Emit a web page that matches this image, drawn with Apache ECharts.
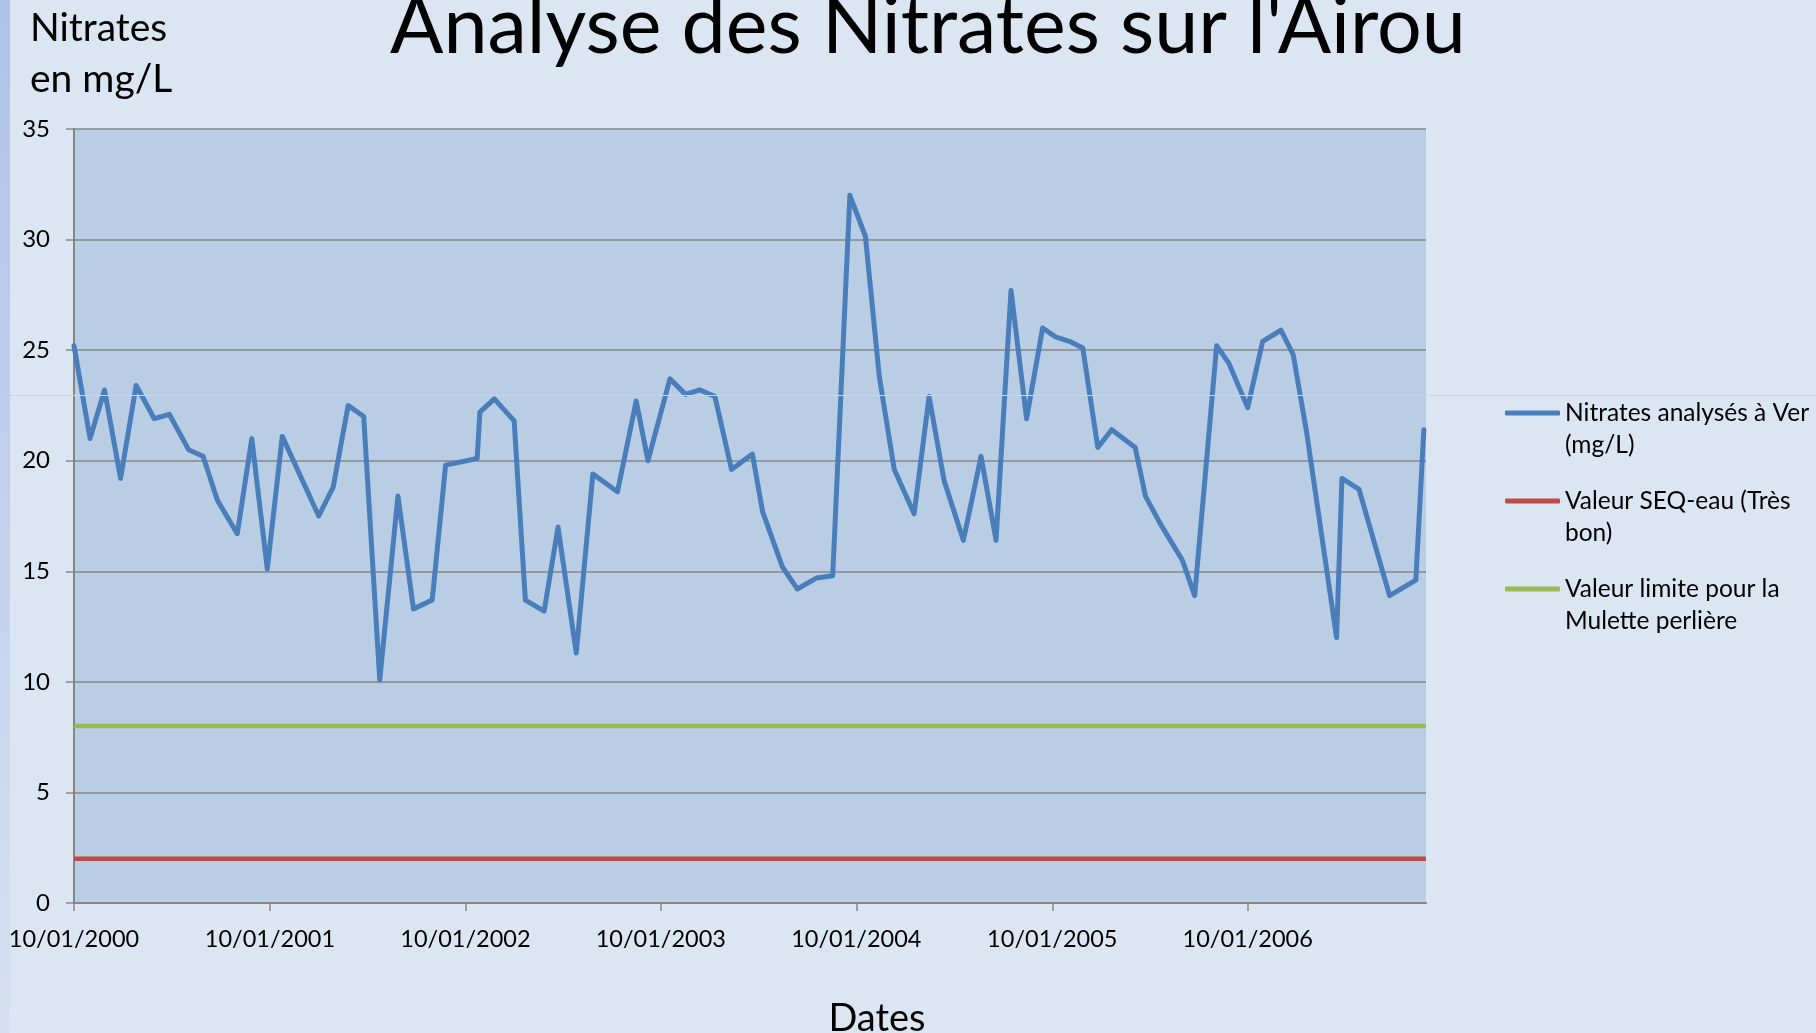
<!DOCTYPE html>
<html>
<head>
<meta charset="utf-8">
<script src="https://cdn.jsdelivr.net/npm/echarts@6/dist/echarts.min.js"></script>
<style>
  html, body { margin: 0; padding: 0; background: #DCE6F2; }
  #chart { width: 1816px; height: 1033px; }
</style>
</head>
<body>
<div id="chart"></div>
<script>
// ---- Data ----
const sampleDates = [
  '2000-01-10','2000-02-09','2000-03-07','2000-04-06','2000-05-05','2000-06-08','2000-07-06','2000-08-11',
  '2000-09-07','2000-10-04','2000-11-10','2000-12-07','2001-01-05','2001-02-02','2001-04-11','2001-05-08',
  '2001-06-05','2001-07-04','2001-08-03','2001-09-06','2001-10-05','2001-11-09','2001-12-04','2002-02-01',
  '2002-02-06','2002-03-05','2002-04-11','2002-05-02','2002-06-06','2002-07-02','2002-08-05','2002-09-05',
  '2002-10-21','2002-11-25','2002-12-17','2003-01-27','2003-02-25','2003-03-24','2003-04-21','2003-05-22',
  '2003-06-30','2003-07-19','2003-08-25','2003-09-22','2003-10-28','2003-11-27','2003-12-29','2004-01-27',
  '2004-02-22','2004-03-21','2004-04-27','2004-05-25','2004-06-22','2004-07-28','2004-08-30','2004-09-27',
  '2004-10-25','2004-11-23','2004-12-23','2005-01-16','2005-02-11','2005-03-08','2005-04-05','2005-05-01',
  '2005-06-14','2005-07-03','2005-08-01','2005-09-10','2005-10-03','2005-11-13','2005-12-06','2006-01-10',
  '2006-02-07','2006-03-13','2006-04-05','2006-04-30','2006-06-25','2006-07-05','2006-08-06','2006-10-02',
  '2006-11-20','2006-12-05'
];
const nitrateValues = [
  25.2, 21.0, 23.2, 19.2, 23.4, 21.9, 22.1, 20.5,
  20.2, 18.2, 16.7, 21.0, 15.1, 21.1, 17.5, 18.8,
  22.5, 22.0, 10.1, 18.4, 13.3, 13.7, 19.8, 20.1,
  22.2, 22.8, 21.8, 13.7, 13.2, 17.0, 11.3, 19.4,
  18.6, 22.7, 20.0, 23.7, 23.0, 23.2, 22.9, 19.6,
  20.3, 17.7, 15.2, 14.2, 14.7, 14.8, 32.0, 30.15,
  23.8, 19.6, 17.6, 22.9, 19.1, 16.4, 20.2, 16.4,
  27.7, 21.9, 26.0, 25.6, 25.4, 25.1, 20.6, 21.4,
  20.6, 18.4, 17.1, 15.5, 13.9, 25.2, 24.4, 22.4,
  25.4, 25.9, 24.8, 21.3, 12.0, 19.2, 18.7, 13.9,
  14.6, 21.4
];
const seqEauValue = 2;        // Valeur SEQ-eau (Très bon)
const muletteLimitValue = 8;  // Valeur limite pour la Mulette perlière
const axisRange = ['2000-01-10', '2006-12-09'];
const xTickLabels = ['10/01/2000','10/01/2001','10/01/2002','10/01/2003','10/01/2004','10/01/2005','10/01/2006'];
const yTicks = [0, 5, 10, 15, 20, 25, 30, 35];
const seriesNames = [
  'Nitrates analysés à Ver (mg/L)',
  'Valeur SEQ-eau (Très bon)',
  'Valeur limite pour la Mulette perlière'
];
const legendLines = {
  'Nitrates analysés à Ver (mg/L)': ['Nitrates analysés à Ver', '(mg/L)'],
  'Valeur SEQ-eau (Très bon)': ['Valeur SEQ-eau (Très', 'bon)'],
  'Valeur limite pour la Mulette perlière': ['Valeur limite pour la', 'Mulette perlière']
};

// ---- Build ----
const FONT = 'Lato, "Noto Sans", sans-serif';
const isoToTs = s => { const p = s.split('-').map(Number); return Date.UTC(p[0], p[1] - 1, p[2]); };
const frToTs = s => { const p = s.split('/').map(Number); return Date.UTC(p[2], p[1] - 1, p[0]); };
const tickTs = xTickLabels.map(frToTs);
const pad = n => (n < 10 ? '0' : '') + n;
const fmtDate = v => { const d = new Date(v); return pad(d.getUTCDate()) + '/' + pad(d.getUTCMonth() + 1) + '/' + d.getUTCFullYear(); };

const nitrateData = sampleDates.map((d, i) => [isoToTs(d), nitrateValues[i]]);
const rangeTs = axisRange.map(isoToTs);
const seqData = rangeTs.map(t => [t, seqEauValue]);
const muletteData = rangeTs.map(t => [t, muletteLimitValue]);

const chart = echarts.init(document.getElementById('chart'), null, { renderer: 'canvas' });
chart.setOption({
  animation: false,
  backgroundColor: '#DCE6F2',
  textStyle: { fontFamily: FONT },
  grid: {
    left: 74, top: 129, width: 1352, height: 774,
    show: true, backgroundColor: '#B9CDE5', borderWidth: 0
  },
  xAxis: {
    type: 'value',
    min: rangeTs[0],
    max: rangeTs[1],
    axisLine: { show: true, lineStyle: { color: '#868686', width: 2 } },
    axisTick: { show: true, length: 8, lineStyle: { color: '#868686', width: 1.5 }, customValues: tickTs },
    axisLabel: {
      customValues: tickTs,
      formatter: v => fmtDate(v),
      fontFamily: FONT, fontSize: 23.5, color: '#000', margin: 24
    },
    splitLine: { show: false }
  },
  yAxis: {
    type: 'value',
    min: yTicks[0],
    max: yTicks[yTicks.length - 1],
    interval: yTicks[1] - yTicks[0],
    axisLine: { show: true, lineStyle: { color: '#868686', width: 2 } },
    axisTick: { show: true, length: 8, lineStyle: { color: '#868686', width: 1.5 } },
    axisLabel: { fontFamily: FONT, fontSize: 24, color: '#000', margin: 24 },
    splitLine: { show: true, lineStyle: { color: '#868686', width: 1.6 } }
  },
  legend: {
    orient: 'vertical',
    left: 1505,
    top: 365,
    padding: 0,
    itemGap: -8,
    itemWidth: 55,
    itemHeight: 5,
    icon: 'roundRect',
    selectedMode: false,
    data: seriesNames,
    formatter: name => '\n' + legendLines[name].join('\n'),
    textStyle: { fontFamily: FONT, fontSize: 24.5, lineHeight: 32, color: '#000' }
  },
  series: [
    {
      name: seriesNames[0], type: 'line', data: nitrateData, symbol: 'none',
      color: '#4A7EBB',
      lineStyle: { color: '#4A7EBB', width: 5, join: 'round', cap: 'round' }, z: 5
    },
    {
      name: seriesNames[1], type: 'line', data: seqData, symbol: 'none',
      color: '#BE4B48',
      lineStyle: { color: '#BE4B48', width: 4.5 }, z: 4
    },
    {
      name: seriesNames[2], type: 'line', data: muletteData, symbol: 'none',
      color: '#98B954',
      lineStyle: { color: '#98B954', width: 4.5 }, z: 4
    }
  ],
  graphic: [
    {
      type: 'rect', left: 0, top: 0, z: 0,
      shape: { width: 10, height: 1033 },
      style: { fill: new echarts.graphic.LinearGradient(0, 0, 0, 1, [
        { offset: 0, color: '#AEC3E9' }, { offset: 1, color: '#D6E0F1' }
      ]) }
    },
    {
      type: 'text', x: 928, y: 28, z: 10,
      style: { text: "Analyse des Nitrates sur l'Airou", font: '79px ' + FONT, fill: '#000',
               align: 'center', verticalAlign: 'middle' }
    },
    {
      type: 'text', x: 30, y: 53.5, z: 10,
      style: { text: 'Nitrates\nen mg/L', font: '39px ' + FONT, lineHeight: 51, fill: '#000',
               align: 'left', verticalAlign: 'middle' }
    },
    {
      type: 'text', x: 877, y: 1018.5, z: 10,
      style: { text: 'Dates', font: '38px ' + FONT, fill: '#000', align: 'center', verticalAlign: 'middle' }
    },
    {
      type: 'line', z: 100,
      shape: { x1: 10, y1: 395.5, x2: 1816, y2: 395.5 },
      style: { stroke: '#C5D6F2', lineWidth: 1 }
    }
  ]
});
</script>
</body>
</html>
